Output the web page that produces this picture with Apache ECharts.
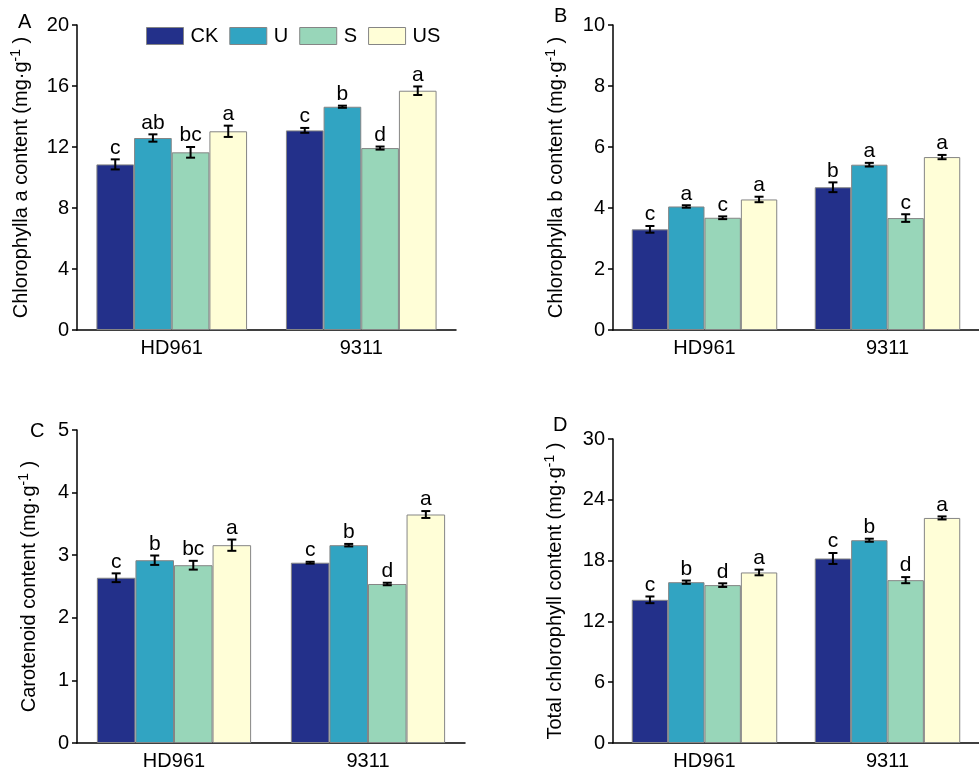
<!DOCTYPE html>
<html><head><meta charset="utf-8">
<script src="https://cdn.jsdelivr.net/npm/echarts@6/dist/echarts.min.js"></script>
<style>html,body{margin:0;padding:0;background:#fff}#c{width:979px;height:771px}</style>
</head><body><div id="c"></div>
<script>
// ---- data ----
const categories = ['HD961', '9311'];
const treatments = ['CK', 'U', 'S', 'US'];
const colors = ['#23308A', '#31A4C2', '#98D6B9', '#FFFED7'];

// rows = treatments (CK, U, S, US), columns = categories (HD961, 9311)
const chlA_mean = [[10.86, 13.09], [12.59, 14.64], [11.65, 11.93], [13.03, 15.69]];
const chlA_err  = [[0.33, 0.16], [0.24, 0.07], [0.35, 0.10], [0.37, 0.28]];
const chlA_sig  = [['c', 'c'], ['ab', 'b'], ['bc', 'd'], ['a', 'a']];

const chlB_mean = [[3.30, 4.68], [4.05, 5.42], [3.68, 3.67], [4.28, 5.67]];
const chlB_err  = [[0.11, 0.16], [0.04, 0.06], [0.045, 0.125], [0.09, 0.07]];
const chlB_sig  = [['c', 'b'], ['a', 'a'], ['c', 'c'], ['a', 'a']];

const car_mean = [[2.64, 2.88], [2.92, 3.16], [2.84, 2.54], [3.16, 3.65]];
const car_err  = [[0.07, 0.015], [0.075, 0.02], [0.07, 0.02], [0.09, 0.055]];
const car_sig  = [['c', 'c'], ['b', 'b'], ['bc', 'd'], ['a', 'a']];

const tot_mean = [[14.13, 18.21], [15.87, 20.01], [15.58, 16.07], [16.83, 22.21]];
const tot_err  = [[0.33, 0.54], [0.16, 0.15], [0.18, 0.30], [0.28, 0.15]];
const tot_sig  = [['c', 'c'], ['b', 'b'], ['d', 'd'], ['a', 'a']];

const yTitles = ['Chlorophylla a content', 'Chlorophylla b content', 'Carotenoid content', 'Total chlorophyll content'];
const yMax = [20, 10, 5, 30];
const yInterval = [4, 2, 1, 6];
const panelLetters = ['A', 'B', 'C', 'D'];

// ---- layout ----
const FONT = 'Liberation Sans, Arial, sans-serif';
const GAP = 0.205;
const grids = [
  {left: 77, top: 25, width: 379, height: 305},
  {left: 613, top: 25, width: 379, height: 305},
  {left: 77, top: 430, width: 388, height: 313},
  {left: 613, top: 439, width: 379, height: 304}
];
const nameGaps = [44, 45, 36, 46];
const letterPos = [[25, 23], [561, 17], [37, 432], [560, 426]];

const panels = [
  [chlA_mean, chlA_err, chlA_sig],
  [chlB_mean, chlB_err, chlB_sig],
  [car_mean, car_err, car_sig],
  [tot_mean, tot_err, tot_sig]
];

const xAxes = [], yAxes = [], series = [], graphics = [];
panels.forEach((p, k) => {
  const [means, errs, sigs] = p;
  xAxes.push({
    type: 'category', gridIndex: k, data: categories,
    axisLine: {lineStyle: {color: '#000', width: 1.5}},
    axisTick: {alignWithLabel: true, length: 5, lineStyle: {color: '#000', width: 1.5}},
    axisLabel: {color: '#000', fontSize: 20, fontFamily: FONT, margin: 8}
  });
  yAxes.push({
    type: 'value', gridIndex: k, min: 0, max: yMax[k], interval: yInterval[k],
    splitLine: {show: false},
    axisLine: {show: true, lineStyle: {color: '#000', width: 1.5}},
    axisTick: {show: true, length: 5, lineStyle: {color: '#000', width: 1.5}},
    axisLabel: {color: '#000', fontSize: 20, fontFamily: FONT, margin: 8},
    name: '{a|' + yTitles[k] + ' (mg·g}{s|-1}{a| )}',
    nameLocation: 'middle', nameRotate: 90, nameGap: nameGaps[k],
    nameTextStyle: {
      color: '#000', fontFamily: FONT,
      rich: {
        a: {fontSize: 20, fontFamily: FONT, color: '#000'},
        s: {fontSize: 14, fontFamily: FONT, color: '#000', verticalAlign: 'top', padding: [0, 0, 10, 0]}
      }
    }
  });
  treatments.forEach((t, i) => {
    series.push({
      type: 'bar', name: t, xAxisIndex: k, yAxisIndex: k,
      data: means[i], barGap: '0%', barCategoryGap: (GAP * 100) + '%',
      itemStyle: {color: colors[i], borderColor: '#858585', borderWidth: 1}
    });
  });
  const errData = [], errLetters = [];
  treatments.forEach((t, i) => {
    categories.forEach((c, j) => {
      errData.push([j, means[i][j], errs[i][j], i]);
      errLetters.push(sigs[i][j]);
    });
  });
  series.push({
    type: 'custom', xAxisIndex: k, yAxisIndex: k, z: 10,
    data: errData, encode: {x: 0, y: 1},
    renderItem: (params, api) => {
      const cat = api.value(0), val = api.value(1), err = api.value(2), ti = api.value(3);
      const band = api.size([1, 0])[0];
      const total = band * (1 - GAP);
      const w = total / 4;
      const cx = api.coord([cat, val])[0] - total / 2 + (ti + 0.5) * w;
      const yT = api.coord([cat, val + err])[1];
      const yB = api.coord([cat, val - err])[1];
      const st = {stroke: '#000', lineWidth: 2};
      const hw = 4.5;
      return {
        type: 'group',
        children: [
          {type: 'line', shape: {x1: cx, y1: yT, x2: cx, y2: yB}, style: st},
          {type: 'line', shape: {x1: cx - hw, y1: yT, x2: cx + hw, y2: yT}, style: st},
          {type: 'line', shape: {x1: cx - hw, y1: yB, x2: cx + hw, y2: yB}, style: st},
          {type: 'text', style: {text: errLetters[params.dataIndex], x: cx, y: yT - 1,
            align: 'center', verticalAlign: 'bottom', fontSize: 21, fontFamily: FONT, fill: '#000'}}
        ]
      };
    }
  });
  graphics.push({
    type: 'text', left: letterPos[k][0] - 7, top: letterPos[k][1] - 11,
    style: {text: panelLetters[k], fontSize: 20, fontFamily: FONT, fill: '#000'}
  });
});

const chart = echarts.init(document.getElementById('c'), null, {renderer: 'canvas'});
chart.setOption({
  backgroundColor: '#fff',
  animation: false,
  grid: grids,
  xAxis: xAxes,
  yAxis: yAxes,
  legend: {
    data: treatments, left: 141, top: 21,
    itemWidth: 37, itemHeight: 17, itemGap: 11, icon: 'rect',
    textStyle: {fontSize: 20, fontFamily: FONT, color: '#000', padding: [0, 0, 0, 2]},
    itemStyle: {borderColor: '#858585', borderWidth: 1}
  },
  graphic: graphics,
  series: series
});
</script></body></html>
